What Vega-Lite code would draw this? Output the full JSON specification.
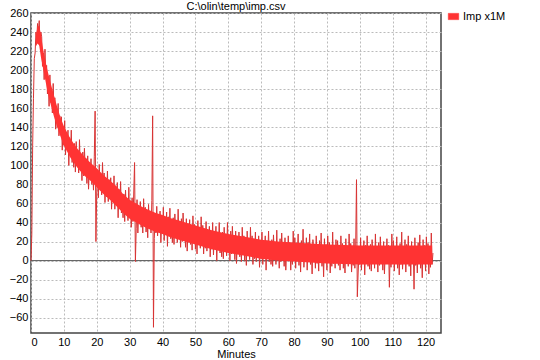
{
"$schema":"https://vega.github.io/schema/vega-lite/v6.json",
"width":410,"height":320,
"autosize":{"type":"none"},
"padding":{"left":31,"top":13,"right":99,"bottom":27},
"background":"white",
"title":{"text":"C:\\olin\\temp\\imp.csv","fontSize":11,"fontWeight":"normal","font":"Liberation Sans","color":"#000","anchor":"middle","baseline":"bottom","offset":-16},
"config":{
"view":{"stroke":"#444","strokeWidth":1.5},
"axis":{"domain":false,"ticks":false,"grid":true,"gridColor":"#bbb","gridDash":[2,2],"gridWidth":1,"labelOverlap":false,"labelFont":"Liberation Sans","labelFontSize":11,"labelColor":"#000","titleFont":"Liberation Sans","titleFontSize":11,"titleFontWeight":"normal","titleColor":"#000"}
},
"layer":[
{"data":{"values":[{}]},"mark":{"type":"rule","color":"#555","strokeWidth":1},"encoding":{"y":{"datum":0,"type":"quantitative","title":null,"scale":{"domain":[-76,260],"nice":false,"zero":false},"axis":{"values":[-60,-40,-20,0,20,40,60,80,100,120,140,160,180,200,220,240,260],"labelOverlap":false,"labelPadding":3}}}},
{"data":{"values":[
{"m":0,"v":0},{"m":0.25,"v":28},{"m":0.5,"v":120},{"m":0.75,"v":170},{"m":1,"v":212},{"m":1.25,"v":218},{"m":1.5,"v":240},{"m":1.75,"v":232},{"m":2,"v":249},{"m":2.25,"v":238},{"m":2.5,"v":252},{"m":2.75,"v":226},{"m":3,"v":240},
{"m":3.25,"v":235},{"m":3.5,"v":204},{"m":3.75,"v":218},{"m":4,"v":190},{"m":4.25,"v":222},{"m":4.5,"v":194},{"m":4.75,"v":205},{"m":5,"v":175},{"m":5.25,"v":189},{"m":5.5,"v":162},{"m":5.75,"v":195},{"m":6,"v":166},{"m":6.25,"v":180},{"m":6.5,"v":155},{"m":6.75,"v":186},{"m":7,"v":156},{"m":7.25,"v":171},{"m":7.5,"v":138},{"m":7.75,"v":159},{"m":8,"v":140},{"m":8.25,"v":165},{"m":8.5,"v":131},{"m":8.75,"v":152},{"m":9,"v":133},{"m":9.25,"v":151},{"m":9.5,"v":116},{"m":9.75,"v":135},{"m":10,"v":121},
{"m":10.25,"v":147},{"m":10.5,"v":111},{"m":10.75,"v":133},{"m":11,"v":121},{"m":11.25,"v":137},{"m":11.5,"v":100},{"m":11.75,"v":129},{"m":12,"v":110},{"m":12.25,"v":137},{"m":12.5,"v":103},{"m":12.75,"v":118},{"m":13,"v":98},{"m":13.25,"v":123},{"m":13.5,"v":93},{"m":13.75,"v":125},{"m":14,"v":103},{"m":14.25,"v":115},{"m":14.5,"v":92},{"m":14.75,"v":127},{"m":15,"v":95},{"m":15.25,"v":109},{"m":15.5,"v":84},{"m":15.75,"v":114},{"m":16,"v":89},{"m":16.25,"v":118},{"m":16.5,"v":96},{"m":16.75,"v":107},{"m":17,"v":81},{"m":17.25,"v":110},{"m":17.5,"v":75},{"m":17.75,"v":98},{"m":18,"v":87},
{"m":18.25,"v":107},{"m":18.5,"v":80},{"m":18.75,"v":98},{"m":19,"v":74},{"m":19.25,"v":109},{"m":19.5,"v":157},{"m":19.75,"v":20},{"m":20,"v":73},{"m":20.25,"v":90},{"m":20.5,"v":66},{"m":20.75,"v":101},{"m":21,"v":75},{"m":21.25,"v":91},{"m":21.5,"v":69},{"m":21.75,"v":103},{"m":22,"v":75},{"m":22.25,"v":92},{"m":22.5,"v":61},{"m":22.75,"v":84},{"m":23,"v":67},{"m":23.25,"v":94},{"m":23.5,"v":62},{"m":23.75,"v":85},{"m":24,"v":68},{"m":24.25,"v":87},{"m":24.5,"v":54},{"m":24.75,"v":75},{"m":25,"v":62},{"m":25.25,"v":89},{"m":25.5,"v":54},{"m":25.75,"v":76},{"m":26,"v":65},{"m":26.25,"v":82},{"m":26.5,"v":45},{"m":26.75,"v":75},{"m":27,"v":56},{"m":27.25,"v":83},{"m":27.5,"v":50},{"m":27.75,"v":65},{"m":28,"v":45},{"m":28.25,"v":70},{"m":28.5,"v":41},{"m":28.75,"v":74},{"m":29,"v":52},{"m":29.25,"v":64},{"m":29.5,"v":42},{"m":29.75,"v":77},{"m":30,"v":45},{"m":30.25,"v":60},{"m":30.5,"v":35},{"m":30.75,"v":66},{"m":31,"v":41},{"m":31.25,"v":71},{"m":31.5,"v":103},{"m":31.75,"v":-1},{"m":32,"v":34},{"m":32.25,"v":64},{"m":32.5,"v":29},{"m":32.75,"v":52},{"m":33,"v":41},
{"m":33.25,"v":62},{"m":33.5,"v":35},{"m":33.75,"v":53},{"m":34,"v":29},{"m":34.25,"v":65},{"m":34.5,"v":41},{"m":34.75,"v":56},{"m":35,"v":30},{"m":35.25,"v":47},{"m":35.5,"v":24},{"m":35.75,"v":59},{"m":36,"v":34},{"m":36.25,"v":51},{"m":36.5,"v":29},{"m":36.75,"v":63},{"m":37,"v":152},{"m":37.25,"v":-70},{"m":37.5,"v":23},{"m":37.75,"v":46},{"m":38,"v":29},{"m":38.25,"v":57},{"m":38.5,"v":26},{"m":38.75,"v":48},{"m":39,"v":32},{"m":39.25,"v":52},{"m":39.5,"v":19},{"m":39.75,"v":40},{"m":40,"v":28},{"m":40.25,"v":56},{"m":40.5,"v":21},{"m":40.75,"v":44},{"m":41,"v":34},{"m":41.25,"v":51},{"m":41.5,"v":15},{"m":41.75,"v":46},{"m":42,"v":27},{"m":42.25,"v":55},{"m":42.5,"v":23},{"m":42.75,"v":38},{"m":43,"v":19},{"m":43.25,"v":45},{"m":43.5,"v":17},{"m":43.75,"v":49},{"m":44,"v":28},{"m":44.25,"v":41},{"m":44.5,"v":19},{"m":44.75,"v":54},{"m":45,"v":23},{"m":45.25,"v":38},{"m":45.5,"v":14},{"m":45.75,"v":44},{"m":46,"v":20},{"m":46.25,"v":50},{"m":46.5,"v":29},{"m":46.75,"v":39},{"m":47,"v":14},{"m":47.25,"v":44},{"m":47.5,"v":10},{"m":47.75,"v":32},{"m":48,"v":22},
{"m":48.25,"v":43},{"m":48.5,"v":17},{"m":48.75,"v":34},{"m":49,"v":11},{"m":49.25,"v":47},{"m":49.5,"v":24},{"m":49.75,"v":38},{"m":50,"v":12},{"m":50.25,"v":30},{"m":50.5,"v":7},{"m":50.75,"v":42},{"m":51,"v":17},{"m":51.25,"v":34},{"m":51.5,"v":13},{"m":51.75,"v":46},{"m":52,"v":19},{"m":52.25,"v":37},{"m":52.5,"v":7},{"m":52.75,"v":29},{"m":53,"v":13},{"m":53.25,"v":41},{"m":53.5,"v":10},{"m":53.75,"v":32},{"m":54,"v":16},{"m":54.25,"v":36},{"m":54.5,"v":4},{"m":54.75,"v":24},{"m":55,"v":12},{"m":55.25,"v":40},{"m":55.5,"v":6},{"m":55.75,"v":28},{"m":56,"v":18},{"m":56.25,"v":36},{"m":56.5,"v":0},{"m":56.75,"v":30},{"m":57,"v":12},{"m":57.25,"v":40},{"m":57.5,"v":8},{"m":57.75,"v":24},{"m":58,"v":4},{"m":58.25,"v":30},{"m":58.5,"v":2},{"m":58.75,"v":35},{"m":59,"v":14},{"m":59.25,"v":27},{"m":59.5,"v":5},{"m":59.75,"v":40},{"m":60,"v":9},{"m":60.25,"v":24},{"m":60.5,"v":0},{"m":60.75,"v":31},{"m":61,"v":7},{"m":61.25,"v":36},{"m":61.5,"v":15},{"m":61.75,"v":26},{"m":62,"v":1},{"m":62.25,"v":31},{"m":62.5,"v":-3},{"m":62.75,"v":20},{"m":63,"v":9},
{"m":63.25,"v":30},{"m":63.5,"v":4},{"m":63.75,"v":22},{"m":64,"v":-1},{"m":64.25,"v":35},{"m":64.5,"v":12},{"m":64.75,"v":26},{"m":65,"v":0},{"m":65.25,"v":18},{"m":65.5,"v":-5},{"m":65.75,"v":31},{"m":66,"v":6},{"m":66.25,"v":23},{"m":66.5,"v":1},{"m":66.75,"v":35},{"m":67,"v":8},{"m":67.25,"v":26},{"m":67.5,"v":-4},{"m":67.75,"v":19},{"m":68,"v":2},{"m":68.25,"v":30},{"m":68.5,"v":-1},{"m":68.75,"v":22},{"m":69,"v":6},{"m":69.25,"v":26},{"m":69.5,"v":-7},{"m":69.75,"v":14},{"m":70,"v":2},{"m":70.25,"v":30},{"m":70.5,"v":-4},{"m":70.75,"v":19},{"m":71,"v":9},{"m":71.25,"v":26},{"m":71.5,"v":-10},{"m":71.75,"v":21},{"m":72,"v":3},{"m":72.25,"v":31},{"m":72.5,"v":-1},{"m":72.75,"v":15},{"m":73,"v":-4},{"m":73.25,"v":22},{"m":73.5,"v":-6},{"m":73.75,"v":27},{"m":74,"v":6},{"m":74.25,"v":19},{"m":74.5,"v":-4},{"m":74.75,"v":32},{"m":75,"v":1},{"m":75.25,"v":16},{"m":75.5,"v":-8},{"m":75.75,"v":23},{"m":76,"v":-1},{"m":76.25,"v":29},{"m":76.5,"v":8},{"m":76.75,"v":19},{"m":77,"v":-6},{"m":77.25,"v":24},{"m":77.5,"v":-10},{"m":77.75,"v":13},{"m":78,"v":3},
{"m":78.25,"v":26},{"m":78.5,"v":1},{"m":78.75,"v":19},{"m":79,"v":-10},{"m":79.25,"v":13},{"m":79.5,"v":-4},{"m":79.75,"v":31},{"m":80,"v":3},{"m":80.25,"v":24},{"m":80.5,"v":-8},{"m":80.75,"v":17},{"m":81,"v":7},{"m":81.25,"v":28},{"m":81.5,"v":-5},{"m":81.75,"v":15},{"m":82,"v":-12},{"m":82.25,"v":21},{"m":82.5,"v":-1},{"m":82.75,"v":33},{"m":83,"v":-7},{"m":83.25,"v":11},{"m":83.5,"v":-1},{"m":83.75,"v":24},{"m":84,"v":-10},{"m":84.25,"v":19},{"m":84.5,"v":3},{"m":84.75,"v":28},{"m":85,"v":-4},{"m":85.25,"v":15},{"m":85.5,"v":-14},{"m":85.75,"v":22},{"m":86,"v":4},{"m":86.25,"v":17},{"m":86.5,"v":-8},{"m":86.75,"v":26},{"m":87,"v":-3},{"m":87.25,"v":10},{"m":87.5,"v":-11},{"m":87.75,"v":21},{"m":88,"v":1},{"m":88.25,"v":29},{"m":88.5,"v":-6},{"m":88.75,"v":13},{"m":89,"v":-17},{"m":89.25,"v":23},{"m":89.5,"v":-1},{"m":89.75,"v":17},{"m":90,"v":-10},{"m":90.25,"v":26},{"m":90.5,"v":4},{"m":90.75,"v":19},{"m":91,"v":-13},{"m":91.25,"v":13},{"m":91.5,"v":-6},{"m":91.75,"v":30},{"m":92,"v":-3},{"m":92.25,"v":15},{"m":92.5,"v":-8},{"m":92.75,"v":22},{"m":93,"v":1},
{"m":93.25,"v":21},{"m":93.5,"v":-5},{"m":93.75,"v":13},{"m":94,"v":-10},{"m":94.25,"v":26},{"m":94.5,"v":3},{"m":94.75,"v":18},{"m":95,"v":-8},{"m":95.25,"v":10},{"m":95.5,"v":-13},{"m":95.75,"v":23},{"m":96,"v":-2},{"m":96.25,"v":15},{"m":96.5,"v":-6},{"m":96.75,"v":28},{"m":97,"v":0},{"m":97.25,"v":18},{"m":97.5,"v":-12},{"m":97.75,"v":11},{"m":98,"v":-5},{"m":98.25,"v":23},{"m":98.5,"v":-8},{"m":98.75,"v":15},{"m":99,"v":85},{"m":99.25,"v":-38},{"m":99.5,"v":-13},{"m":99.75,"v":8},{"m":100,"v":-4},{"m":100.25,"v":24},{"m":100.5,"v":-10},{"m":100.75,"v":13},{"m":101,"v":3},{"m":101.25,"v":21},{"m":101.5,"v":-15},{"m":101.75,"v":16},{"m":102,"v":-2},{"m":102.25,"v":26},{"m":102.5,"v":-6},{"m":102.75,"v":10},{"m":103,"v":-9},{"m":103.25,"v":17},{"m":103.5,"v":-11},{"m":103.75,"v":22},{"m":104,"v":1},{"m":104.25,"v":14},{"m":104.5,"v":-8},{"m":104.75,"v":28},{"m":105,"v":-3},{"m":105.25,"v":12},{"m":105.5,"v":-12},{"m":105.75,"v":19},{"m":106,"v":-5},{"m":106.25,"v":25},{"m":106.5,"v":4},{"m":106.75,"v":15},{"m":107,"v":-10},{"m":107.25,"v":20},{"m":107.5,"v":-14},{"m":107.75,"v":9},{"m":108,"v":-1},
{"m":108.25,"v":23},{"m":108.5,"v":-2},{"m":108.75,"v":16},{"m":109,"v":-28},{"m":109.25,"v":10},{"m":109.5,"v":-7},{"m":109.75,"v":28},{"m":110,"v":0},{"m":110.25,"v":21},{"m":110.5,"v":-11},{"m":110.75,"v":14},{"m":111,"v":4},{"m":111.25,"v":25},{"m":111.5,"v":-8},{"m":111.75,"v":12},{"m":112,"v":-15},{"m":112.25,"v":18},{"m":112.5,"v":-4},{"m":112.75,"v":30},{"m":113,"v":-9},{"m":113.25,"v":9},{"m":113.5,"v":-3},{"m":113.75,"v":22},{"m":114,"v":-12},{"m":114.25,"v":17},{"m":114.5,"v":1},{"m":114.75,"v":26},{"m":115,"v":-6},{"m":115.25,"v":13},{"m":115.5,"v":-16},{"m":115.75,"v":20},{"m":116,"v":2},{"m":116.25,"v":15},{"m":116.5,"v":-30},{"m":116.75,"v":24},{"m":117,"v":-5},{"m":117.25,"v":8},{"m":117.5,"v":-13},{"m":117.75,"v":19},{"m":118,"v":-1},{"m":118.25,"v":27},{"m":118.5,"v":-8},{"m":118.75,"v":11},{"m":119,"v":-18},{"m":119.25,"v":22},{"m":119.5,"v":-2},{"m":119.75,"v":16},{"m":120,"v":-11},{"m":120.25,"v":25},{"m":120.5,"v":3},{"m":120.75,"v":18},{"m":121,"v":-14},{"m":121.25,"v":12},{"m":121.5,"v":-7},{"m":121.75,"v":29},{"m":122,"v":-4},{"m":122.25,"v":8}
]},
"mark":{"type":"line","strokeWidth":1,"color":"#d83434"},
"encoding":{
"x":{"field":"m","type":"quantitative","title":"Minutes","scale":{"domain":[0,124.7],"nice":false,"zero":false},"axis":{"values":[0,10,20,30,40,50,60,70,80,90,100,110,120],"labelOverlap":false,"labelPadding":3,"titlePadding":1}},
"y":{"field":"v","type":"quantitative","title":null,"scale":{"domain":[-76,260],"nice":false,"zero":false},"axis":{"values":[-60,-40,-20,0,20,40,60,80,100,120,140,160,180,200,220,240,260],"labelOverlap":false,"labelPadding":3}}
}},
{"data":{"values":[
{"m":1.5,"lo":225,"hi":236},{"m":2,"lo":228,"hi":246},{"m":2.5,"lo":226,"hi":246},{"m":3,"lo":214,"hi":238},{"m":3.5,"lo":205,"hi":226},{"m":4,"lo":196,"hi":216},{"m":5,"lo":178,"hi":200},{"m":6,"lo":164,"hi":186},{"m":7,"lo":151,"hi":173},{"m":8,"lo":140,"hi":161},{"m":9,"lo":130,"hi":150},{"m":10,"lo":121,"hi":141},{"m":12,"lo":108,"hi":128},{"m":14,"lo":98,"hi":118},{"m":16,"lo":90,"hi":110},{"m":18,"lo":84,"hi":103},{"m":20,"lo":77,"hi":97},{"m":22,"lo":70,"hi":90},{"m":24,"lo":64,"hi":84},{"m":26,"lo":57,"hi":78},{"m":28,"lo":50,"hi":70},{"m":30,"lo":44,"hi":64},{"m":32,"lo":40,"hi":60},{"m":34,"lo":36,"hi":56},{"m":36,"lo":33,"hi":53},{"m":38,"lo":30,"hi":50},{"m":40,"lo":28,"hi":48},{"m":42,"lo":25,"hi":45},{"m":45,"lo":22,"hi":42},{"m":50,"lo":17,"hi":37},{"m":55,"lo":12,"hi":32},{"m":60,"lo":8,"hi":28},{"m":65,"lo":5,"hi":25},{"m":70,"lo":2,"hi":22},{"m":75,"lo":0,"hi":20},{"m":80,"lo":-1,"hi":19},{"m":90,"lo":-3,"hi":17},{"m":100,"lo":-4,"hi":16},{"m":110,"lo":-4,"hi":16},{"m":122,"lo":-4,"hi":16}
]},
"mark":{"type":"area","color":"#ff3333","opacity":1},
"encoding":{
"x":{"field":"m","type":"quantitative","title":"Minutes","axis":{"values":[0,10,20,30,40,50,60,70,80,90,100,110,120],"labelOverlap":false,"labelPadding":3,"titlePadding":1}},
"y":{"field":"lo","type":"quantitative","title":null,"axis":{"values":[-60,-40,-20,0,20,40,60,80,100,120,140,160,180,200,220,240,260],"labelOverlap":false,"labelPadding":3}},
"y2":{"field":"hi"},
"color":{"datum":"Imp x1M","type":"nominal","scale":{"range":["#ff3333"]},"legend":{"title":null,"orient":"none","legendX":417,"legendY":-2,"symbolType":"M-1,-0.6H1V0.6H-1Z","symbolSize":110,"symbolFillColor":"#ff3333","symbolStrokeColor":"#ff3333","symbolStrokeWidth":0.5,"labelFont":"Liberation Sans","labelFontSize":11,"labelColor":"#000","labelOffset":4}}
}}
]
}
